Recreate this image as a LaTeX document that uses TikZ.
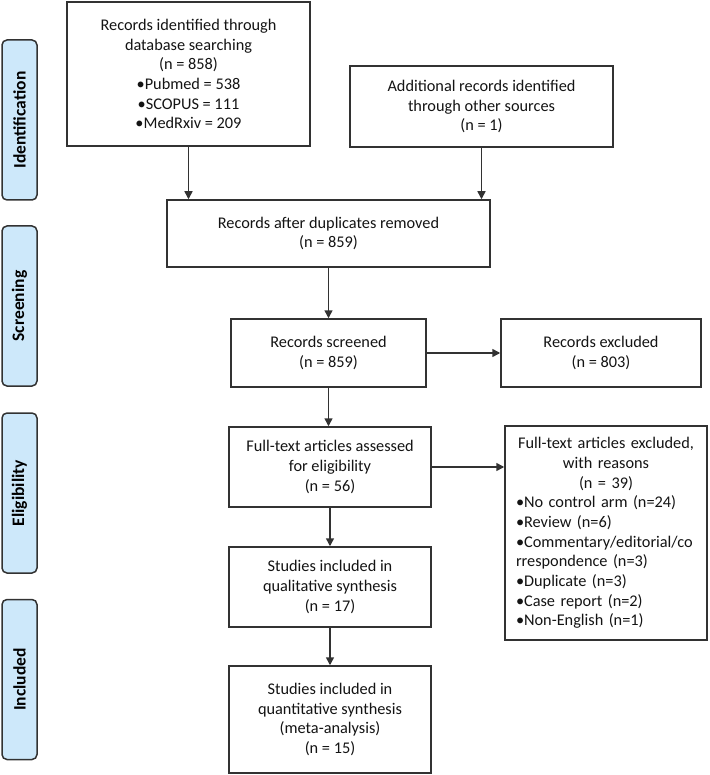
\documentclass[tikz,border=0pt]{standalone}
\usepackage{fontspec}
\setmainfont{Carlito}
\usetikzlibrary{arrows.meta}
\definecolor{lblue}{RGB}{205,232,250}
\definecolor{edge}{RGB}{50,50,50}
\definecolor{txt}{RGB}{20,20,20}
\begin{document}
\begin{tikzpicture}[x=1pt,y=-1pt,
 box/.style={draw=edge,line width=1.5pt,fill=white,inner sep=0pt,align=center,text=txt,font=\fontsize{16.3}{19.7}\selectfont},
 phase/.style={draw=edge,line width=1.5pt,fill=lblue,rounded corners=5pt,rotate=90,minimum width=160pt,minimum height=35pt,inner sep=0pt,text=black,font=\fontsize{17.5}{20}\selectfont\bfseries},
 arr/.style={draw=edge,line width=1.5pt,-{Triangle[length=8pt,width=8pt]}}]
\useasboundingbox (0,0) rectangle (709,775);

% phase labels
\node[phase] (pid) at (19.5,120) {Identification};
\node[phase] (psc) at (19.5,306) {Screening};
\node[phase] (pel) at (19.5,493) {Eligibility};
\node[phase] (pin) at (19.5,679.5) {Included};

% boxes
\node[box,minimum width=243pt,minimum height=144pt] (src1) at (188.5,74)
 {Records identified through\\database searching\\(n = 858)\\•Pubmed = 538\\•SCOPUS = 111\\•MedRxiv = 209};
\node[box,minimum width=263pt,minimum height=81pt] (src2) at (481.5,106.5)
 {Additional records identified\\through other sources\\(n = 1)};
\node[box,minimum width=323pt,minimum height=67pt] (dup) at (328.5,233.5)
 {Records after duplicates removed\\(n = 859)};
\node[box,minimum width=195pt,minimum height=68pt] (scr) at (328.5,353)
 {Records screened\\(n = 859)};
\node[box,minimum width=200pt,minimum height=68pt] (exc1) at (601,353)
 {Records excluded\\(n = 803)};
\node[box,minimum width=202pt,minimum height=80pt] (full) at (330,467)
 {Full-text articles assessed\\for eligibility\\(n = 56)};
\node[box,minimum width=202pt,minimum height=214pt,text width=180pt,align=left] (exc2) at (606,533)
 {{\centering Full-text articles excluded,\\with reasons\\(n = 39)\par}
  {\raggedright \mbox{•No control arm (n=24)}\\\mbox{•Review (n=6)}\\\mbox{•Commentary/editorial/co}\\\mbox{rrespondence (n=3)}\\\mbox{•Duplicate (n=3)}\\\mbox{•Case report (n=2)}\\\mbox{•Non-English (n=1)}\par}};
\node[box,minimum width=202pt,minimum height=80pt] (qual) at (330,587)
 {Studies included in\\qualitative synthesis\\(n = 17)};
\node[box,minimum width=202pt,minimum height=107pt] (quant) at (330,719.5)
 {Studies included in\\quantitative synthesis\\(meta-analysis)\\(n = 15)};

% connectors
\draw[arr] (src1.south) -- (src1.south |- dup.north);
\draw[arr] (src2.south) -- (src2.south |- dup.north);
\draw[arr] (dup.south) -- (scr.north);
\draw[arr] (scr.east) -- (exc1.west);
\draw[arr] (scr.south) -- (scr.south |- full.north);
\draw[arr] (full.east) -- (full.east -| exc2.west);
\draw[arr] (full.south) -- (qual.north);
\draw[arr] (qual.south) -- (quant.north);
\end{tikzpicture}
\end{document}
